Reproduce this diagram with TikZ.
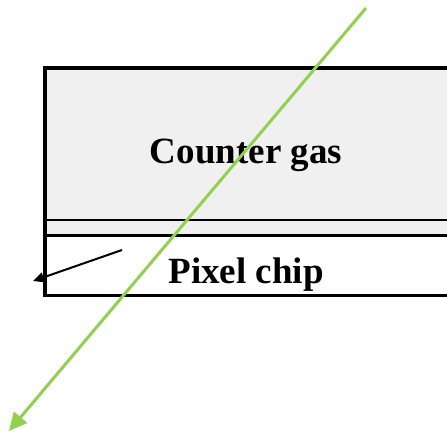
\documentclass[tikz,border=0pt]{standalone}
\usepackage{fontspec}
\setmainfont{Liberation Serif}
\usetikzlibrary{arrows.meta}
\definecolor{gasgray}{HTML}{F0F0F0}
\definecolor{raygreen}{HTML}{92D050}
\tikzset{
  frame/.style={line width=3.8pt},
  thinline/.style={line width=1.6pt},
  label/.style={font=\bfseries\fontsize{37}{40}\selectfont, inner sep=0pt},
  ray/.style={raygreen, line width=3pt, -{Triangle[length=18pt,width=17pt]}},
  pointer/.style={black, line width=2pt, -{Triangle[length=11pt,width=10pt]}}
}
\begin{document}
\begin{tikzpicture}[x=1pt,y=-1pt]
\useasboundingbox (0,0) rectangle (447,432);
\fill[gasgray] (45,68) rectangle (450,235.5);
\draw[frame] (450,68) -- (45,68) -- (45,295.5) -- (450,295.5);
\draw[thinline] (45,220) -- (450,220);
\draw[frame] (45,235.5) -- (450,235.5);
\node[label] (gas) at (246,155) {Counter gas};
\node[label] (chip) at (246,275) {Pixel chip};
\coordinate (rayS) at (366,8);
\coordinate (rayE) at (9,431);
\draw[ray] (rayS) -- (rayE);
\coordinate (ptrS) at (122,250);
\coordinate (ptrE) at (33,281);
\draw[pointer] (ptrS) -- (ptrE);
\end{tikzpicture}
\end{document}
